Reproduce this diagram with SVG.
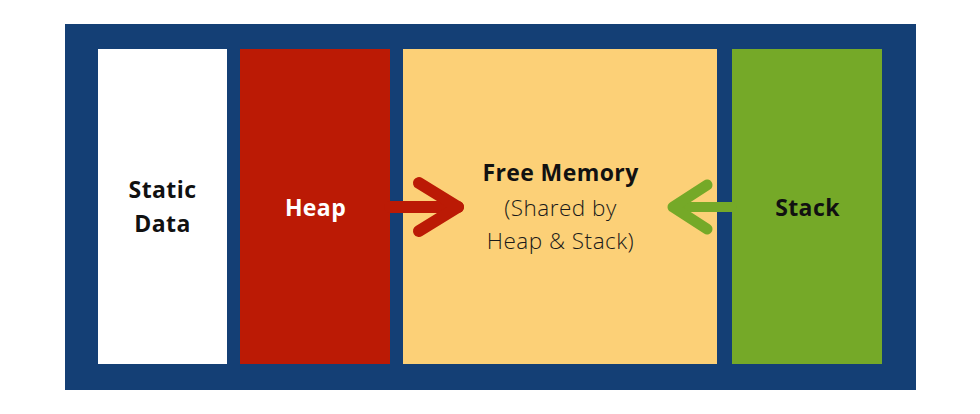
<svg xmlns="http://www.w3.org/2000/svg" width="980" height="414" viewBox="0 0 980 414">
<style>
.b{font-family:"Open Sans","Liberation Sans",sans-serif;font-weight:700;font-size:23px;letter-spacing:0.4px;text-anchor:middle;fill:#111}
.r{font-family:"Open Sans","Liberation Sans",sans-serif;font-weight:300;font-size:22.5px;letter-spacing:0.5px;text-anchor:middle;fill:#1a1a1a}
.ar{fill:none;stroke-linecap:round;stroke-linejoin:round}
</style>
<rect width="980" height="414" fill="#fff"/>
<g id="frame"><rect x="65" y="24" width="851" height="366" fill="#143f75"/></g>
<g id="static"><rect x="98" y="49" width="129" height="315" fill="#fff"/>
<text class="b" x="162.5" y="198">Static</text><text class="b" x="162.5" y="232">Data</text></g>
<g id="heap"><rect x="240" y="49" width="150" height="315" fill="#bb1a05"/>
<text class="b" x="315.5" y="216" style="fill:#fff">Heap</text></g>
<g id="free"><rect x="403" y="49" width="314" height="315" fill="#fcd077"/>
<text class="b" x="560.5" y="181">Free Memory</text>
<text class="r" x="560.5" y="216">(Shared by</text>
<text class="r" x="560.5" y="249">Heap &amp; Stack)</text></g>
<g id="stack"><rect x="732" y="49" width="150" height="315" fill="#75a928"/>
<text class="b" x="807.5" y="216">Stack</text></g>
<g id="connectors">
<path class="ar" d="M390 207 H458" stroke="#bb1a05" stroke-width="12" stroke-linecap="butt"/>
<path class="ar" d="M419 183 L458 207 L419 231" stroke="#bb1a05" stroke-width="12"/>
<path class="ar" d="M732 207 H674" stroke="#75a928" stroke-width="10" stroke-linecap="butt"/>
<path class="ar" d="M707 185 L673 207 L707 229" stroke="#75a928" stroke-width="11"/>
</g>
</svg>
